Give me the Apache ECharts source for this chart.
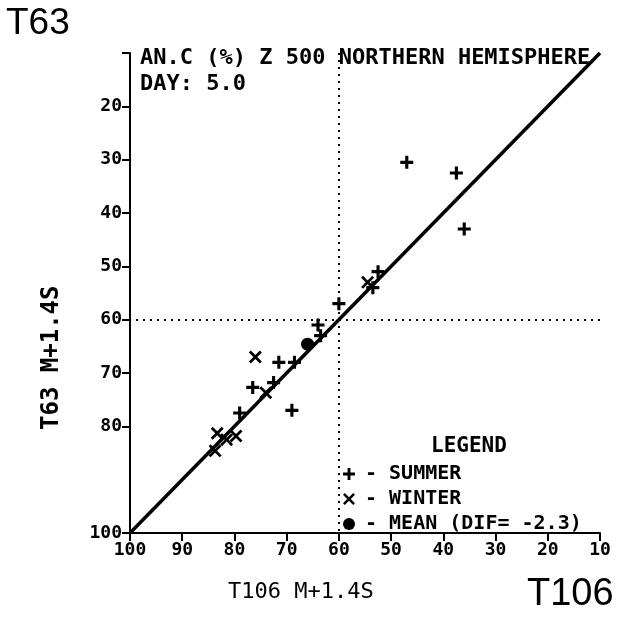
<!DOCTYPE html>
<html>
<head>
<meta charset="utf-8">
<script src="https://cdn.jsdelivr.net/npm/echarts@6/dist/echarts.min.js"></script>
<style>
  html, body { margin: 0; padding: 0; background: #fff; }
  #chart { width: 623px; height: 622px; }
</style>
</head>
<body>
<div id="chart"></div>
<script>
// values (anomaly correlation, %)
var summerX = [47, 37.5, 36, 52.5, 53.5, 60, 64, 63.5, 71.5, 68.5, 76.5, 72.5, 69, 79];
var summerY = [30.5, 32.5, 43, 51, 54, 57, 61, 63, 68, 68, 72.7, 71.8, 77, 77.5];
var winterX = [54.5, 76, 74, 79.7, 83.3, 81.5, 83.7];
var winterY = [53, 67, 73.7, 81.8, 81.3, 82.5, 84.6];
var meanX = [66];
var meanY = [64.6];
var diagonal = [[100, 100], [10, 10]];
var yTickValues = [10, 20, 30, 40, 50, 60, 70, 80, 100];
var yLabelValues = [20, 30, 40, 50, 60, 70, 80, 100];

var MONO = 'DejaVu Sans Mono';
var plusPath = 'path://M3.8,0H6.2V3.8H10V6.2H6.2V10H3.8V6.2H0V3.8H3.8Z';
var crossPath = 'path://M1.5,0L5,3.5L8.5,0L10,1.5L6.5,5L10,8.5L8.5,10L5,6.5L1.5,10L0,8.5L3.5,5L0,1.5Z';

function zip(xs, ys) {
  var out = [];
  for (var i = 0; i < xs.length; i += 1) {
    out.push([xs[i], ys[i]]);
  }
  return out;
}

var chart = echarts.init(document.getElementById('chart'));

var option = {
  backgroundColor: '#fff',
  animation: false,
  grid: { left: 130, right: 23, top: 53, bottom: 89 },
  xAxis: {
    type: 'value',
    min: 10,
    max: 100,
    interval: 10,
    inverse: true,
    splitLine: { show: false },
    axisLine: { lineStyle: { color: '#000', width: 2 } },
    axisTick: { length: 8, lineStyle: { color: '#000', width: 2 } },
    axisLabel: {
      color: '#000',
      fontFamily: MONO,
      fontWeight: 'bold',
      fontSize: 18,
      margin: 8
    }
  },
  yAxis: {
    type: 'value',
    min: 10,
    max: 100,
    interval: 10,
    inverse: true,
    splitLine: { show: false },
    axisLine: { lineStyle: { color: '#000', width: 2 } },
    axisTick: { length: 8, customValues: yTickValues, lineStyle: { color: '#000', width: 2 } },
    axisLabel: {
      color: '#000',
      fontFamily: MONO,
      fontWeight: 'bold',
      fontSize: 18,
      margin: 8,
      customValues: yLabelValues
    }
  },
  legend: {
    orient: 'vertical',
    left: 338,
    top: 459,
    itemWidth: 12,
    itemHeight: 12,
    itemGap: 5,
    data: ['SUMMER', 'WINTER', 'MEAN (DIF= -2.3)'],
    formatter: '- {name}',
    textStyle: { color: '#000', fontFamily: MONO, fontWeight: 'bold', fontSize: 20, padding: [0, 0, 0, 5] }
  },
  graphic: [
    { type: 'text', left: 140, top: 47, style: { text: 'AN.C (%) Z 500 NORTHERN HEMISPHERE', font: 'bold 22px "DejaVu Sans Mono"', fill: '#000' } },
    { type: 'text', left: 140, top: 73, style: { text: 'DAY: 5.0', font: 'bold 22px "DejaVu Sans Mono"', fill: '#000' } },
    { type: 'text', left: 431, top: 436, style: { text: 'LEGEND', font: 'bold 21px "DejaVu Sans Mono"', fill: '#000' } },
    { type: 'text', left: 228, top: 581, style: { text: 'T106 M+1.4S', font: '22px "DejaVu Sans Mono"', fill: '#000' } },
    { type: 'text', x: 40, y: 430, rotation: Math.PI / 2, style: { text: 'T63 M+1.4S', font: 'bold 24px "DejaVu Sans Mono"', fill: '#000' } },
    { type: 'text', left: 6, top: 5, style: { text: 'T63', font: '37px "Liberation Sans"', fill: '#000' } },
    { type: 'text', left: 527, top: 576, style: { text: 'T106', font: '38px "Liberation Sans"', fill: '#000' } }
  ],
  series: [
    {
      type: 'line',
      data: diagonal,
      symbol: 'none',
      silent: true,
      lineStyle: { color: '#000', width: 3.5 },
      markLine: {
        silent: true,
        symbol: 'none',
        label: { show: false },
        lineStyle: { color: '#000', type: [2, 5], width: 2 },
        data: [{ xAxis: 60 }, { yAxis: 60 }]
      }
    },
    {
      name: 'SUMMER',
      type: 'scatter',
      symbol: plusPath,
      symbolSize: 13,
      itemStyle: { color: '#000', opacity: 1 },
      data: zip(summerX, summerY)
    },
    {
      name: 'WINTER',
      type: 'scatter',
      symbol: crossPath,
      symbolSize: 13,
      itemStyle: { color: '#000', opacity: 1 },
      data: zip(winterX, winterY)
    },
    {
      name: 'MEAN (DIF= -2.3)',
      type: 'scatter',
      symbol: 'circle',
      symbolSize: 13,
      itemStyle: { color: '#000', opacity: 1 },
      data: zip(meanX, meanY)
    }
  ]
};

chart.setOption(option);
</script>
</body>
</html>
